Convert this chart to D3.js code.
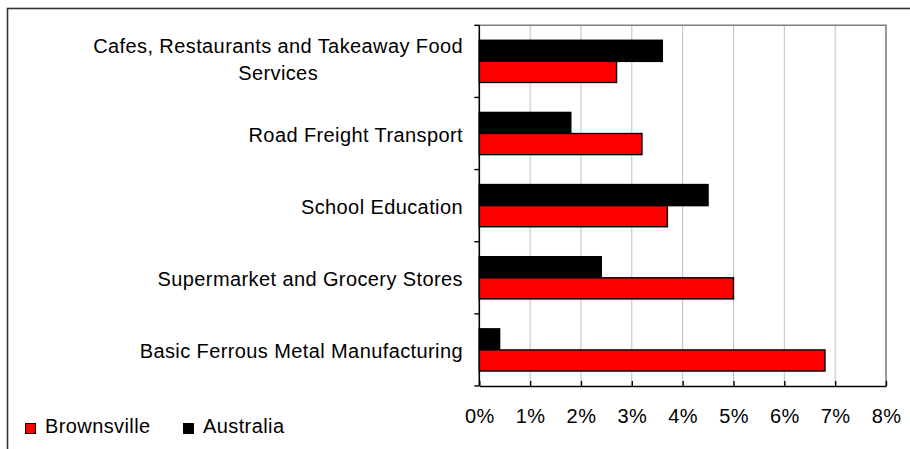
<!DOCTYPE html>
<html>
<head>
<meta charset="utf-8">
<script src="https://cdn.jsdelivr.net/npm/d3@7"></script>
<style>
  html, body { margin: 0; padding: 0; background: #fff; }
  svg { display: block; }
  text { font-family: "Liberation Sans", Arial, sans-serif; font-size: 20px; fill: #000; letter-spacing: 0.4px; }
</style>
</head>
<body>
<svg id="chart" width="910" height="449"></svg>
<script>
// ---- data ----
const categories = [
  ["Cafes, Restaurants and Takeaway Food", "Services"],
  ["Road Freight Transport"],
  ["School Education"],
  ["Supermarket and Grocery Stores"],
  ["Basic Ferrous Metal Manufacturing"]
];
const seriesNames = ["Australia", "Brownsville"];
const australia = [3.6, 1.8, 4.5, 2.4, 0.4];
const brownsville = [2.7, 3.2, 3.7, 5.0, 6.8];
const xTicks = [0, 1, 2, 3, 4, 5, 6, 7, 8];
const xTickLabels = ["0%", "1%", "2%", "3%", "4%", "5%", "6%", "7%", "8%"];
const legendNames = ["Brownsville", "Australia"];
const colors = { "Brownsville": "#ff0000", "Australia": "#000000" };

// ---- layout ----
const svg = d3.select("#chart");
const plot = { left: 479.3, right: 886, top: 25.3, bottom: 386 };

const catIdx = categories.map((d, i) => i);
const y = d3.scaleBand().domain(catIdx).range([plot.top, plot.bottom])
  .paddingInner(0.415).paddingOuter(0.2075);
const ySub = d3.scaleBand().domain(seriesNames).range([0, y.bandwidth()]);
const x = d3.scaleLinear().domain([0, 8]).range([plot.left, plot.right]);

// outer chart border (partially outside view)
svg.append("rect")
  .attr("x", 7.5).attr("y", 8.5).attr("width", 1000).attr("height", 1000)
  .attr("fill", "none").attr("stroke", "#333").attr("stroke-width", 1.6);

// gridlines
svg.append("g").selectAll("line")
  .data(xTicks.filter(t => t > 0 && t < 8))
  .join("line")
  .attr("x1", d => x(d)).attr("x2", d => x(d))
  .attr("y1", plot.top).attr("y2", plot.bottom)
  .attr("stroke", "#c0c0c0").attr("stroke-width", 1);

// plot frame (top/right gray)
svg.append("path")
  .attr("d", `M${plot.left},${plot.top}H${plot.right}V${plot.bottom}`)
  .attr("fill", "none").attr("stroke", "#808080").attr("stroke-width", 1.6);

// bars
const rows = catIdx.map(i => ({ i, values: [
  { name: "Australia", v: australia[i] },
  { name: "Brownsville", v: brownsville[i] }
]}));
const g = svg.append("g");
rows.forEach(r => {
  r.values.forEach(s => {
    g.append("rect")
      .attr("x", x(0))
      .attr("y", y(r.i) + ySub(s.name))
      .attr("width", x(s.v) - x(0))
      .attr("height", ySub.bandwidth())
      .attr("fill", colors[s.name])
      .attr("stroke", "#000").attr("stroke-width", 1.4);
  });
});

// x axis
const xAxis = d3.axisBottom(x).tickValues(xTicks).tickFormat((d, i) => xTickLabels[i])
  .tickSizeInner(-5).tickSizeOuter(0).tickPadding(0);
const gx = svg.append("g").attr("transform", `translate(0,${plot.bottom})`).call(xAxis);
gx.select(".domain").attr("stroke", "#000").attr("stroke-width", 1.6);
gx.selectAll(".tick line").attr("stroke", "#000").attr("stroke-width", 1.4);
gx.selectAll(".tick text").attr("y", 37).attr("dy", null)
  .style("font-size", "20px").style("font-family", "Liberation Sans, Arial, sans-serif").attr("fill", "#000");

// y axis: line + ticks at band boundaries
const boundaries = catIdx.map(i => y(i) - y.step() * y.paddingInner() / 2).concat([plot.bottom]);
svg.append("line").attr("x1", plot.left).attr("x2", plot.left)
  .attr("y1", plot.top).attr("y2", plot.bottom)
  .attr("stroke", "#000").attr("stroke-width", 1.6);
svg.append("g").selectAll("line").data(boundaries).join("line")
  .attr("x1", plot.left - 5).attr("x2", plot.left)
  .attr("y1", d => d).attr("y2", d => d)
  .attr("stroke", "#000").attr("stroke-width", 1.4);

// category labels
const labelRight = 463;
categories.forEach((lines, i) => {
  const c = y(i) + y.bandwidth() / 2;
  if (lines.length === 1) {
    svg.append("text").attr("x", labelRight).attr("y", c + 8)
      .attr("text-anchor", "end").text(lines[0]);
  } else {
    const t1 = svg.append("text").attr("x", labelRight).attr("y", c - 8.7)
      .attr("text-anchor", "end").text(lines[0]);
    const w = t1.node().getComputedTextLength();
    svg.append("text").attr("x", labelRight - w / 2).attr("y", c - 8.7 + 27.3)
      .attr("text-anchor", "middle").text(lines[1]);
  }
});

// legend
const legendX = [25, 183];
legendNames.forEach((n, i) => {
  svg.append("rect").attr("x", legendX[i] + 0.5).attr("y", 423.5)
    .attr("width", 10).attr("height", 10)
    .attr("fill", colors[n]).attr("stroke", "#000").attr("stroke-width", 1);
  svg.append("text").attr("x", legendX[i] + 20).attr("y", 433).text(n);
});
</script>
</body>
</html>
